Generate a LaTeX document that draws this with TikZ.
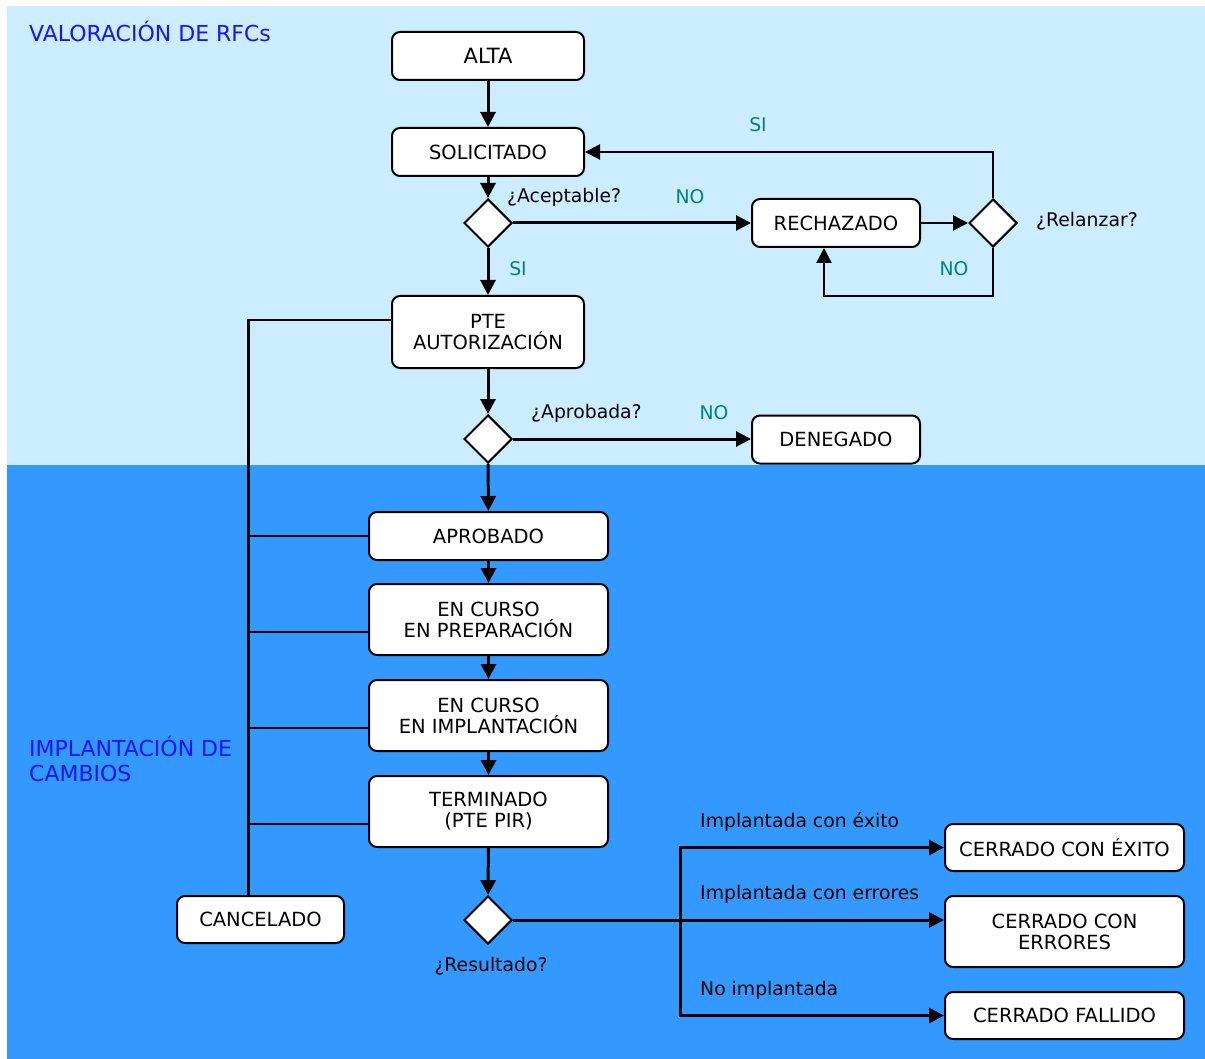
\documentclass[tikz,border=0pt]{standalone}
\usepackage{fontspec}
\setmainfont{DejaVu Sans}
\usetikzlibrary{arrows.meta,shapes.geometric}

\definecolor{paleblue}{RGB}{204,236,255}
\definecolor{deepblue}{RGB}{51,153,255}
\definecolor{titleblue}{RGB}{20,20,255}
\definecolor{answer}{RGB}{0,128,128}

\tikzset{
  stbox/.style={draw, line width=2pt, rounded corners=8pt, fill=white,
    align=center, inner sep=0pt, font=\fontsize{19.5}{21}\selectfont},
  decision/.style={diamond, draw, fill=white, line width=2pt,
    minimum width=48pt, minimum height=48pt, inner sep=0pt},
  flow/.style={line width=3pt, -{Triangle[length=15pt,width=15pt]}},
  thinflow/.style={line width=2.5pt, -{Triangle[length=15pt,width=15pt]}},
  cancelline/.style={line width=2.1pt},
  lbl/.style={inner sep=0pt, font=\fontsize{18.8}{21}\selectfont},
  ans/.style={lbl, text=answer},
  zone/.style={inner sep=0pt, text=titleblue, align=left,
    font=\fontsize{22}{25}\selectfont}
}

\begin{document}
\begin{tikzpicture}[x=1pt, y=-1pt]
  \useasboundingbox (0,0) rectangle (1205,1059);
  \fill[white] (0,0) rectangle (1205,1059);
  \fill[paleblue] (7,6) rectangle (1205,465);
  \fill[deepblue] (7,465) rectangle (1205,1059);

  % zone titles
  \node[zone, anchor=west] (zval) at (29,31) {VALORACIÓN DE RFCs};
  \node[zone, anchor=north west] (zimp) at (29,736) {IMPLANTACIÓN DE\\CAMBIOS};

  % states
  \node[stbox, minimum width=192pt, minimum height=48pt,
        font=\fontsize{21}{24}\selectfont] (alta) at (488,56) {ALTA};
  \node[stbox, minimum width=192pt, minimum height=48pt] (sol) at (488,152) {SOLICITADO};
  \node[decision] (d1) at (488,223) {};
  \node[stbox, minimum width=168pt, minimum height=48pt] (rech) at (836,223) {RECHAZADO};
  \node[decision] (d2) at (993,223) {};
  \node[stbox, minimum width=192pt, minimum height=72pt] (pte) at (488,332) {PTE\\AUTORIZACIÓN};
  \node[decision] (d3) at (488,439) {};
  \node[stbox, minimum width=168pt, minimum height=48pt] (den) at (836,439.5) {DENEGADO};
  \node[stbox, minimum width=239pt, minimum height=48pt] (aprob) at (488.5,536) {APROBADO};
  \node[stbox, minimum width=239pt, minimum height=71pt] (prep) at (488.5,619.5) {EN CURSO\\EN PREPARACIÓN};
  \node[stbox, minimum width=239pt, minimum height=71pt] (impl) at (488.5,715.5) {EN CURSO\\EN IMPLANTACIÓN};
  \node[stbox, minimum width=239pt, minimum height=71pt] (term) at (488.5,811.5) {TERMINADO\\(PTE PIR)};
  \node[decision] (d4) at (488,920) {};
  \node[stbox, minimum width=167pt, minimum height=47pt] (canc) at (260.5,919.5) {CANCELADO};
  \node[stbox, minimum width=239pt, minimum height=47pt] (exito) at (1064.5,847.5) {CERRADO CON ÉXITO};
  \node[stbox, minimum width=239pt, minimum height=71pt] (err) at (1064.5,931.5) {CERRADO CON\\ERRORES};
  \node[stbox, minimum width=239pt, minimum height=47pt] (fall) at (1064.5,1015.5) {CERRADO FALLIDO};

  % question and answer labels
  \node[lbl, anchor=west] (qacep) at (507,197) {¿Aceptable?};
  \node[ans] (noacep) at (690,197) {NO};
  \node[ans] (siacep) at (518,269) {SI};
  \node[lbl, anchor=west] (qrel) at (1036,221) {¿Relanzar?};
  \node[ans] (sirel) at (758,125) {SI};
  \node[ans] (norel) at (954,269) {NO};
  \node[lbl, anchor=west] (qapr) at (531,413) {¿Aprobada?};
  \node[ans] (noapr) at (714,413) {NO};
  \node[lbl] (qres) at (491,966) {¿Resultado?};
  \node[lbl, anchor=west] (rok) at (700,822) {Implantada con éxito};
  \node[lbl, anchor=west] (rerr) at (700,894) {Implantada con errores};
  \node[lbl, anchor=west] (rno) at (700,990) {No implantada};

  % main flow
  \draw[flow] (alta) -- (sol);
  \draw[flow] (sol) -- (d1);
  \draw[flow] (d1) -- (pte);
  \draw[flow] (d1) -- (rech);
  \draw[thinflow] (rech) -- (d2);
  \draw[thinflow] (d2.north) |- (sol.east);
  \draw[thinflow] (d2.south) -- ++(0,48) -| ([xshift=-12pt]rech.south);
  \draw[flow] (pte) -- (d3);
  \draw[flow] (d3) -- (den.west |- d3);
  \draw[flow] (d3) -- (aprob);
  \draw[flow] (aprob) -- (prep);
  \draw[flow] (prep) -- (impl);
  \draw[flow] (impl) -- (term);
  \draw[flow] (term) -- (d4);

  % result branches
  \coordinate (split) at (680,920);
  \draw[flow] (d4) -- (err.west |- d4);
  \draw[flow] (split) |- (exito.west);
  \draw[flow] (split) |- (fall.west);

  % cancellation bus
  \coordinate (bus) at ([xshift=-12pt]canc.north);
  \draw[cancelline] ([yshift=12pt]pte.west) -| (bus);
  \draw[cancelline] (aprob.west) -- (aprob.west -| bus);
  \draw[cancelline] ([yshift=-12.5pt]prep.west) -- ([yshift=-12.5pt]prep.west -| bus);
  \draw[cancelline] ([yshift=-12.5pt]impl.west) -- ([yshift=-12.5pt]impl.west -| bus);
  \draw[cancelline] ([yshift=-12.5pt]term.west) -- ([yshift=-12.5pt]term.west -| bus);
\end{tikzpicture}
\end{document}
